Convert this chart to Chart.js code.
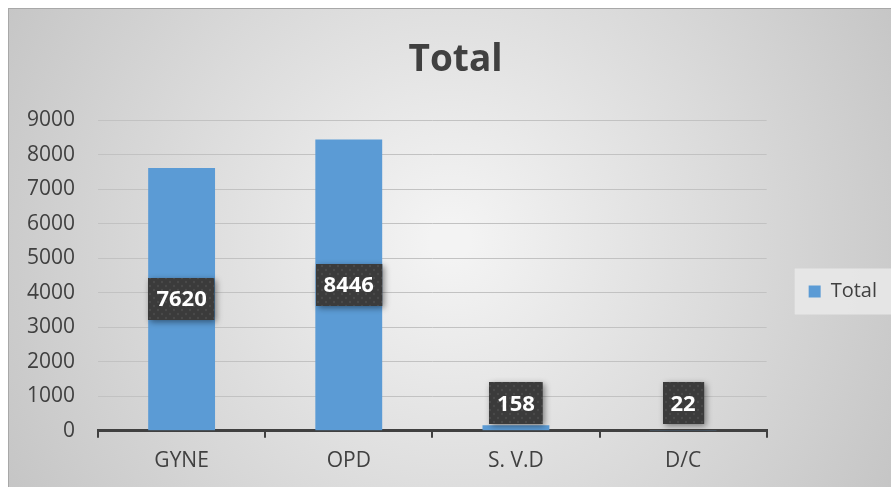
<!DOCTYPE html>
<html>
<head>
<meta charset="utf-8">
<script src="https://cdn.jsdelivr.net/npm/chart.js@4.4.0/dist/chart.umd.min.js"></script>
<style>
  html, body { margin: 0; padding: 0; background: #fff; }
  #wrap { width: 891px; height: 487px; }
</style>
</head>
<body>
<div id="wrap"><canvas id="totalChart" width="891" height="487"></canvas></div>
<script>
const categories = ['GYNE', 'OPD', 'S. V.D', 'D/C'];
const totalValues = [7620, 8446, 158, 22];
const seriesName = 'Total';

// dark dotted texture for the data label boxes
function makePattern(ctx) {
    const c = document.createElement('canvas');
    c.width = 8; c.height = 8;
    const p = c.getContext('2d');
    p.fillStyle = '#3b3b3b';
    p.fillRect(0, 0, 8, 8);
    p.fillStyle = '#4a4a4a';
    p.beginPath(); p.arc(2, 2, 1.2, 0, Math.PI * 2); p.fill();
    p.beginPath(); p.arc(6, 6, 1.2, 0, Math.PI * 2); p.fill();
    return ctx.createPattern(c, 'repeat');
}

const backgroundPlugin = {
    id: 'frameBg',
    afterLayout(chart) {
        // title sits a bit right of centre, legend a bit below the middle
        chart.titleBlock.left += 10;
        chart.titleBlock.right += 10;
        chart.legend.top += 33;
        chart.legend.bottom += 33;
    },
    beforeDraw(chart) {
        const ctx = chart.ctx;
        ctx.save();
        ctx.fillStyle = '#ffffff';
        ctx.fillRect(0, 0, chart.width, chart.height);
        const g = ctx.createRadialGradient(450, 240, 20, 450, 240, 520);
        g.addColorStop(0, '#f3f3f3');
        g.addColorStop(1, '#c4c4c4');
        ctx.fillStyle = g;
        ctx.fillRect(8, 8, chart.width - 8, chart.height - 8);
        ctx.strokeStyle = '#a8a8a8';
        ctx.lineWidth = 1;
        ctx.strokeRect(8.5, 8.5, chart.width, chart.height);
        // legend panel around the single legend item
        const lg = chart.legend;
        if (lg && lg.legendHitBoxes && lg.legendHitBoxes.length) {
            const hb = lg.legendHitBoxes[0];
            ctx.fillStyle = 'rgba(232,232,232,0.9)';
            ctx.fillRect(hb.left - 14, hb.top + hb.height / 2 - 23, chart.width - hb.left + 14, 46);
        }
        ctx.restore();
    }
};

const labelPlugin = {
    id: 'boxLabels',
    afterDatasetsDraw(chart) {
        const ctx = chart.ctx;
        const meta = chart.getDatasetMeta(0);
        const pattern = makePattern(ctx);
        ctx.save();
        ctx.font = 'bold 22px "Open Sans"';
        meta.data.forEach((bar, i) => {
            const text = String(totalValues[i]);
            const w = ctx.measureText(text).width + 16;
            const h = 42;
            let cy = (bar.y + bar.base) / 2;
            if (cy + h / 2 > bar.base - 6) cy = bar.base - 6 - h / 2;
            const x0 = Math.round(bar.x - w / 2), y0 = Math.round(cy - h / 2);
            ctx.save();
            ctx.shadowColor = 'rgba(0,0,0,0.45)';
            ctx.shadowBlur = 6;
            ctx.shadowOffsetX = 2;
            ctx.shadowOffsetY = 2;
            ctx.fillStyle = pattern;
            ctx.fillRect(x0, y0, w, h);
            ctx.restore();
            ctx.fillStyle = '#ffffff';
            ctx.textAlign = 'center';
            ctx.textBaseline = 'middle';
            ctx.fillText(text, bar.x, cy + 1);
        });
        ctx.restore();
    }
};

const ctx = document.getElementById('totalChart').getContext('2d');
new Chart(ctx, {
    type: 'bar',
    data: {
        labels: categories,
        datasets: [{
            label: seriesName,
            data: totalValues,
            backgroundColor: '#5b9bd5',
            barPercentage: 0.4,
            categoryPercentage: 1.0
        }]
    },
    options: {
        responsive: false,
        animation: false,
        layout: { padding: { left: 4, right: 4, top: 32, bottom: 2 } },
        plugins: {
            title: {
                display: true,
                text: 'Total',
                color: '#404040',
                font: { family: '"Open Sans"', size: 37, weight: 'bold' },
                padding: { top: 6, bottom: 38 }
            },
            legend: {
                position: 'right',
                labels: {
                    color: '#404040',
                    font: { family: '"Open Sans"', size: 20 },
                    boxWidth: 12,
                    boxHeight: 12,
                    padding: 42
                }
            },
            tooltip: { enabled: false }
        },
        scales: {
            x: {
                border: { display: true, color: '#404040', width: 3 },
                grid: { display: true, drawOnChartArea: false, drawTicks: true, tickLength: 7, color: '#404040', lineWidth: 2 },
                ticks: { color: '#404040', font: { family: '"Open Sans"', size: 21 }, padding: 11 }
            },
            y: {
                min: 0,
                max: 9000,
                border: { display: false },
                grid: { color: '#c2c2c2', lineWidth: 1, drawTicks: false },
                ticks: {
                    stepSize: 1000,
                    color: '#404040',
                    font: { family: '"Open Sans"', size: 21 },
                    padding: 23,
                    callback: (v) => String(v)
                }
            }
        }
    },
    plugins: [backgroundPlugin, labelPlugin]
});
</script>
</body>
</html>
